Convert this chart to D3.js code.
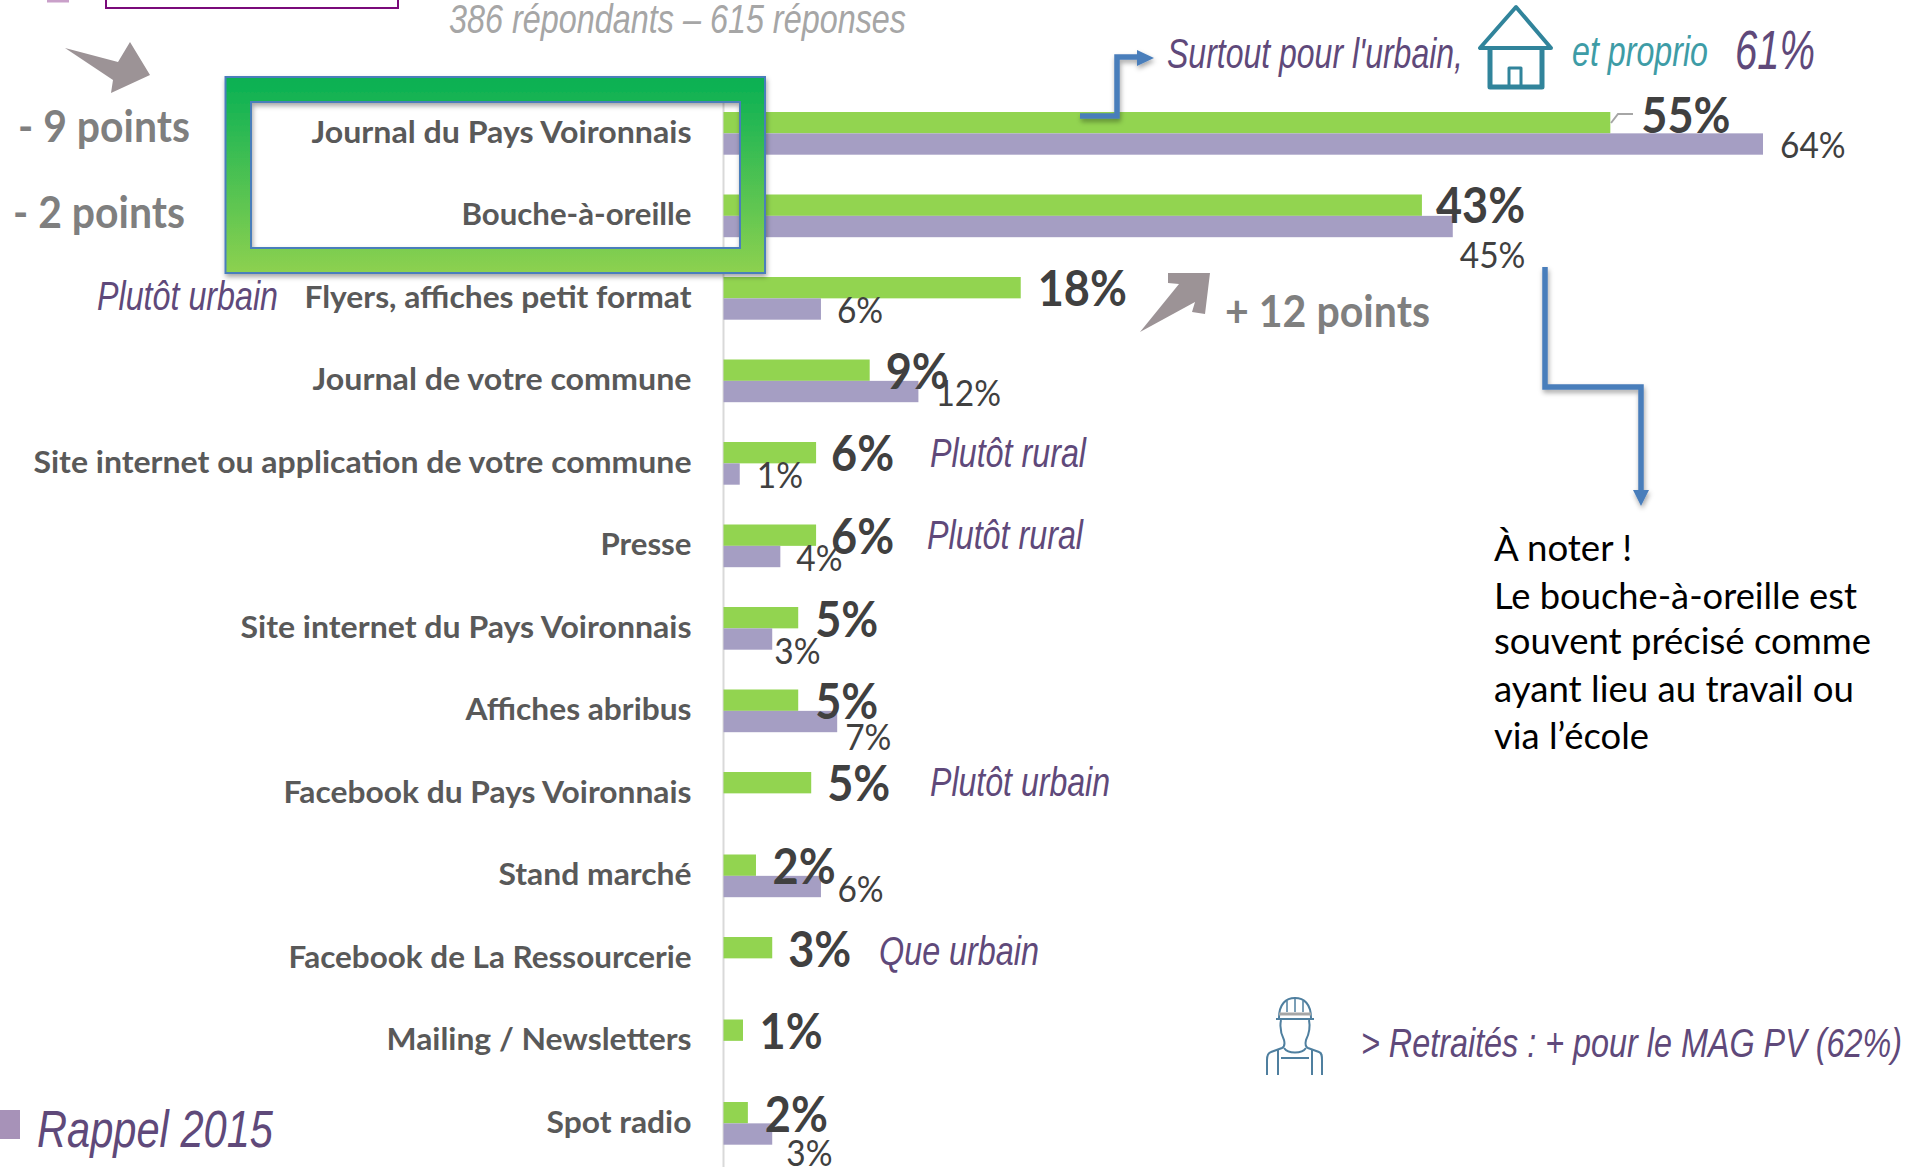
<!DOCTYPE html>
<html lang="fr"><head><meta charset="utf-8">
<style>html,body{margin:0;padding:0;background:#fff;overflow:hidden}svg{display:block}</style>
<script src="https://cdn.jsdelivr.net/npm/d3@7"></script></head>
<body><svg id="c" width="1928" height="1167"></svg>
<script>
// ---- data ----
const categories = ["Journal du Pays Voironnais","Bouche-à-oreille","Flyers, affiches petit format","Journal de votre commune","Site internet ou application de votre commune","Presse","Site internet du Pays Voironnais","Affiches abribus","Facebook du Pays Voironnais","Stand marché","Facebook de La Ressourcerie","Mailing / Newsletters","Spot radio"];
const values2019 = [54.6,43,18.3,9,5.7,5.7,4.6,4.6,5.4,2,3,1.2,1.5];
const values2015 = [64,44.9,6,12,1,3.5,3,7,null,6,null,null,3];
const labels2019 = ["55%","43%","18%","9%","6%","6%","5%","5%","5%","2%","3%","1%","2%"];
const labels2015 = ["64%","45%","6%","12%","1%","4%","3%","7%",null,"6%",null,null,"3%"];
const noteLines = ["À noter !","Le bouche-à-oreille est","souvent précisé comme","ayant lieu au travail ou","via l’école"];

// ---- layout ----
const catWidths = [380,230,387,379,658,91,451,226,408,193,403,305,145];
const dx2019 = [31,14,17,16,15,15,17,17,16,16.5,16,16.5,17];
const dy2019 = [21,28.5,29,29.5,29,29.5,30,29.5,29,29.5,30,29.5,30];
const dx2015 = [17,7,16,17,17,16,2,8,0,16.5,0,0,14];
const dy2015 = [45.5,73.5,45.5,46,45.5,46,56.5,60,0,47,0,0,63.5];
const GREEN="#92D450", LILAC="#A59EC3", PURPLE="#5F497A", BLUE="#4A7EBB", TEAL="#31849B", ARROW="#9C9396";
const SANS="Lato, 'Open Sans', sans-serif", ARIAL="'Liberation Sans', Arial, sans-serif";

const svg = d3.select("#c");
const defs = svg.append("defs");
const fg = defs.append("linearGradient").attr("id","frameGrad").attr("x1",0).attr("x2",0).attr("y1",0).attr("y2",1);
fg.append("stop").attr("offset","0").attr("stop-color","#07B053");
fg.append("stop").attr("offset","1").attr("stop-color","#8DD150");
const sh = defs.append("filter").attr("id","shadow").attr("x","-20%").attr("y","-20%").attr("width","140%").attr("height","140%");
sh.append("feDropShadow").attr("dx",1).attr("dy",3).attr("stdDeviation",2.5).attr("flood-color","#000").attr("flood-opacity",0.35);

const x = d3.scaleLinear().domain([0,64]).range([723.5,1763]);
const y = d3.scaleBand().domain(categories).range([112,112+12*82.5+42.7]).paddingInner(1-42.7/82.5).paddingOuter(0);
const h = y.bandwidth()/2;
const rows = categories.map((c,i)=>({c,i,a:values2019[i],b:values2015[i],la:labels2019[i],lb:labels2015[i]}));

// squeezes a label horizontally so it reads tall and narrow like the original face
function squeeze(sel,ratio){
  sel.each(function(){
    const n=this.getComputedTextLength();
    d3.select(this).attr("textLength",n*ratio).attr("lengthAdjust","spacingAndGlyphs");
  });
}

// axis + category labels
svg.append("line").attr("x1",x(0)).attr("x2",x(0)).attr("y1",102).attr("y2",1167).attr("stroke","#D9D9D9").attr("stroke-width",2);
const axis = svg.append("g").attr("transform",`translate(${x(0)},0)`).call(d3.axisLeft(y).tickSize(0).tickPadding(32));
axis.select(".domain").remove();
axis.selectAll("text").attr("font-family",SANS).attr("font-weight",700).attr("font-size",31).attr("fill","#595959")
  .attr("dy",9.4).attr("textLength",(d,i)=>catWidths[i]).attr("lengthAdjust","spacingAndGlyphs");

// bars
svg.append("g").selectAll("rect").data(rows).join("rect")
  .attr("x",x(0)).attr("y",d=>y(d.c)).attr("width",d=>x(d.a)-x(0)).attr("height",h).attr("fill",GREEN);
svg.append("g").selectAll("rect").data(rows.filter(d=>d.b!==null)).join("rect")
  .attr("x",x(0)).attr("y",d=>y(d.c)+h).attr("width",d=>x(d.b)-x(0)).attr("height",h).attr("fill",LILAC);

// leader line on first bar
svg.append("polyline").attr("points","1611,123 1618,114 1633,114").attr("fill","none").attr("stroke","#A6A6A6").attr("stroke-width",2);

// value labels
svg.append("g").selectAll("text").data(rows.filter(d=>d.b!==null)).join("text")
  .attr("x",d=>x(d.b)+dx2015[d.i]).attr("y",d=>y(d.c)+dy2015[d.i])
  .attr("font-family",SANS).attr("font-size",36).attr("fill","#404040").text(d=>d.lb).call(squeeze,0.93);
svg.append("g").selectAll("text").data(rows).join("text")
  .attr("x",d=>x(d.a)+dx2019[d.i]).attr("y",d=>y(d.c)+dy2019[d.i])
  .attr("font-family",SANS).attr("font-weight",700).attr("font-size",49).attr("fill","#404040").text(d=>d.la).call(squeeze,0.92);

// green frame
svg.append("path").attr("d","M225.5,77H765V273H225.5Z M251,102H740V248H251Z").attr("fill-rule","evenodd")
  .attr("fill","url(#frameGrad)").attr("stroke",BLUE).attr("stroke-width",2).attr("filter","url(#shadow)");

// helper for free text
function T(s,xx,yy,o){
  const t=svg.append("text").attr("x",xx).attr("y",yy).text(s)
    .attr("font-family",o.f||ARIAL).attr("font-size",o.s).attr("fill",o.c)
    .attr("font-style",o.i===false?"normal":"italic").attr("font-weight",o.b?700:400);
  if(o.w) t.attr("textLength",o.w).attr("lengthAdjust","spacingAndGlyphs");
  return t;
}
T("386 répondants – 615 réponses",449,33,{s:40,c:"#A6A6A6",w:457});
T("Plutôt urbain",97,310,{s:41,c:PURPLE,w:181});
T("Surtout pour l'urbain,",1167,68,{s:42,c:PURPLE,w:296});
T("et proprio",1572,66,{s:42,c:"#3E9CA6",w:136});
T("61%",1735,69,{s:55,c:PURPLE,w:80});
T("Plutôt rural",930,467,{s:41,c:PURPLE,w:156});
T("Plutôt rural",927,549,{s:41,c:PURPLE,w:156});
T("Plutôt urbain",930,796,{s:40,c:PURPLE,w:180});
T("Que urbain",879,965,{s:40,c:PURPLE,w:160});
T("> Retraités : + pour le MAG PV (62%)",1361,1057,{s:40,c:PURPLE,w:541});
T("Rappel 2015",37,1147,{s:52,c:PURPLE,w:236});
const pt={f:SANS,b:true,i:false,s:43,c:"#7F7F7F"};
T("- 9 points",18,142,{...pt,w:172});
T("- 2 points",13,228,{...pt,w:172});
T("+ 12 points",1225,327,{...pt,w:205});

// note
const noteW=[138,363,377,360,155], noteY=[561,609,654,702,749];
noteLines.forEach((l,i)=>T(l,1494,noteY[i],{f:SANS,i:false,s:36,c:"#000",w:noteW[i]}));

// top-left box
svg.append("rect").attr("x",106).attr("y",-10).attr("width",292).attr("height",18).attr("fill","#fff").attr("stroke","#7A0A7A").attr("stroke-width",2);
svg.append("rect").attr("x",47).attr("y",0).attr("width",22).attr("height",2.5).attr("fill","#C9A0C9");

// gray arrows
svg.append("polygon").attr("points","65,48 118,62 130,42 150,75 111,93 113,80").attr("fill",ARROW);
svg.append("polygon").attr("points","1140,332 1179,284 1168,283 1168,273 1210,273 1205,314 1192,312 1195,302").attr("fill",ARROW);

// blue elbow arrows
const elbow=(pts,head)=>{
  const g=svg.append("g").attr("filter","url(#shadow)");
  g.append("polyline").attr("points",pts).attr("fill","none").attr("stroke",BLUE).attr("stroke-width",5.5);
  g.append("polygon").attr("points",head).attr("fill",BLUE);
};
elbow("1080,116 1117,116 1117,57 1138,57","1137,50 1154,58 1137,66");
elbow("1545,267 1545,387 1641,387 1641,491","1633,490 1649,490 1641,506");

// house icon
const house=svg.append("g").attr("fill","none").attr("stroke",TEAL).attr("stroke-linejoin","round");
house.append("polygon").attr("points","1516,7 1480,48 1551,48").attr("stroke-width",4);
house.append("polyline").attr("points","1490,49 1490,87 1542,87 1542,49").attr("stroke-width",5);
house.append("polyline").attr("points","1509,87 1509,68 1521,68 1521,87").attr("stroke-width",3);

// worker icon
const w=svg.append("g").attr("fill","none").attr("stroke","#4F7F9F").attr("stroke-width",2);
w.append("path").attr("d","M1279,1018C1279,1004 1286,998 1295,998C1304,998 1311,1004 1311,1018");
w.append("path").attr("d","M1276,1019H1314");
w.append("path").attr("d","M1279,1014H1311").attr("stroke","#A6A6A6").attr("stroke-width",3);
w.append("path").attr("d","M1287,1001V1012M1295,999V1012M1303,1001V1012").attr("stroke-width",1.5);
w.append("path").attr("d","M1281,1020C1279,1030 1282,1036 1284,1040C1285,1044 1284,1047 1282,1048L1271,1052C1268,1053 1267,1056 1267,1060V1075");
w.append("path").attr("d","M1309,1020C1311,1030 1308,1036 1306,1040C1305,1044 1306,1047 1308,1048L1319,1052C1322,1053 1322,1056 1322,1060V1075");
w.append("path").attr("d","M1278,1050V1075M1312,1050V1075M1281,1058H1309M1284,1048C1288,1054 1302,1054 1306,1048");

// legend swatch
svg.append("rect").attr("x",0).attr("y",1110).attr("width",20).attr("height",29).attr("fill","#A792B8");
</script></body></html>
